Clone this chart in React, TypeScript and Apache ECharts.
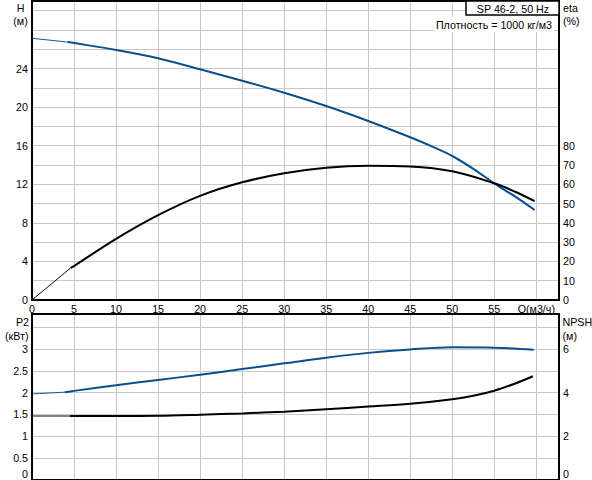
import React, { useEffect, useRef } from "react";
import * as echarts from "echarts";

// Flow (Q, m3/h) and curve values
const headThinQ = [0, 2, 4.2];
const headThin = [27.13, 26.95, 26.74];
const headQ = [4.2, 5, 10, 15, 20, 25, 30, 35, 40, 45, 47.5, 50, 52.5, 55, 57.5, 59.8];
const head = [26.74, 26.64, 25.92, 25.06, 23.92, 22.74, 21.49, 20.11, 18.56, 16.87, 15.95, 14.93, 13.6, 12.1, 10.71, 9.33];

const effThinQ = [0, 4.6];
const effThin = [0, 16.6];
const effQ = [4.6, 5, 10, 15, 20, 25, 30, 35, 40, 45, 50, 55, 57.5, 59.8];
const eff = [16.6, 17.6, 31.7, 44.0, 54.0, 61.0, 65.7, 68.6, 69.6, 69.2, 66.7, 60.5, 56.1, 51.2];

const powerThinQ = [0, 3.9];
const powerThin = [1.97, 2.01];
const powerQ = [3.9, 5, 10, 15, 20, 25, 30, 35, 40, 45, 50, 55, 59.7];
const power = [2.01, 2.04, 2.17, 2.29, 2.41, 2.54, 2.67, 2.8, 2.91, 2.99, 3.04, 3.03, 2.98];

const npshThinQ = [0, 4.5];
const npshThin = [2.93, 2.93];
const npshQ = [4.5, 10, 15, 20, 25, 30, 35, 40, 45, 50, 52.5, 55, 57.5, 59.6];
const npsh = [2.93, 2.93, 2.94, 2.99, 3.05, 3.13, 3.24, 3.36, 3.49, 3.7, 3.86, 4.09, 4.42, 4.75];

const qLabelAt = 60;
const qLabel = "Q(м3/ч)";
const titleText = "SP 46-2, 50 Hz";
const densityText = "Плотность = 1000 кг/м3";

const BLUE = "#0a4f8c";
const GRID = "#c8c8c8";
const FONT = "Arial, 'Liberation Sans', sans-serif";
const FS = 10.7;

const zip = (xs: number[], ys: number[]) => xs.map((x, i) => [x, ys[i]]);

const lineSeries = (data: number[][], x: number, y: number, color: string, width: number) => ({
  type: "line",
  xAxisIndex: x,
  yAxisIndex: y,
  data,
  showSymbol: false,
  symbol: "none",
  smooth: 0.35,
  silent: true,
  lineStyle: { color, width },
  z: 3,
});

export default function App() {
  const ref = useRef<HTMLDivElement>(null);
  useEffect(() => {
    if (!ref.current) return;
    const chart = echarts.init(ref.current, undefined, { renderer: "svg" });
    const labelStyle = { color: "#000", fontSize: FS, fontFamily: FONT };
    const xAxisBase = {
      type: "value",
      min: 0,
      max: 62.7,
      interval: 5,
      axisLine: { show: false },
      axisTick: { show: false },
      splitLine: { show: true, lineStyle: { color: GRID, width: 1 } },
    };
    const option: any = {
      animation: false,
      backgroundColor: "#fff",
      grid: [
        { left: 32, top: 1, width: 527, height: 299 },
        { left: 32, top: 314, width: 527, height: 166 },
      ],
      xAxis: [
        {
          ...xAxisBase,
          gridIndex: 0,
          axisLabel: {
            ...labelStyle,
            margin: 3,
            showMaxLabel: false,
            formatter: (v: number) => (v === qLabelAt ? qLabel : v % 5 === 0 && v < qLabelAt ? String(v) : ""),
          },
        },
        { ...xAxisBase, gridIndex: 1, axisLabel: { show: false } },
      ],
      yAxis: [
        {
          type: "value",
          gridIndex: 0,
          position: "left",
          min: 0,
          max: 31,
          interval: 2,
          axisLine: { show: false },
          axisTick: { show: false },
          splitLine: { show: true, lineStyle: { color: GRID, width: 1 } },
          axisLabel: {
            ...labelStyle,
            margin: 4,
            showMaxLabel: false,
            formatter: (v: number) => (v % 4 === 0 && v <= 24 ? String(v) : ""),
          },
        },
        {
          type: "value",
          gridIndex: 0,
          position: "right",
          min: 0,
          max: 155,
          interval: 10,
          axisLine: { show: false },
          axisTick: { show: false },
          splitLine: { show: false },
          axisLabel: {
            ...labelStyle,
            margin: 4,
            showMaxLabel: false,
            formatter: (v: number) => (v % 10 === 0 && v <= 80 ? String(v) : ""),
          },
        },
        {
          type: "value",
          gridIndex: 1,
          position: "left",
          min: 0,
          max: 3.8,
          interval: 0.5,
          axisLine: { show: false },
          axisTick: { show: false },
          splitLine: { show: true, lineStyle: { color: GRID, width: 1 } },
          axisLabel: {
            ...labelStyle,
            margin: 4,
            showMaxLabel: false,
            formatter: (v: number) => (v === 0 ? "{z|0}" : v <= 3 ? String(v) : ""),
            rich: { z: { ...labelStyle, padding: [0, 0, 12, 0] } },
          },
        },
        {
          type: "value",
          gridIndex: 1,
          position: "right",
          min: 0,
          max: 7.6,
          interval: 2,
          axisLine: { show: false },
          axisTick: { show: false },
          splitLine: { show: false },
          axisLabel: {
            ...labelStyle,
            margin: 4,
            showMaxLabel: false,
            formatter: (v: number) => (v === 0 ? "{z|0}" : v <= 6 ? String(v) : ""),
            rich: { z: { ...labelStyle, padding: [0, 0, 12, 0] } },
          },
        },
      ],
      series: [
        lineSeries(zip(headThinQ, headThin), 0, 0, BLUE, 1),
        lineSeries(zip(headQ, head), 0, 0, BLUE, 2),
        lineSeries(zip(effThinQ, effThin), 0, 1, "#000", 1),
        lineSeries(zip(effQ, eff), 0, 1, "#000", 2),
        lineSeries(zip(powerThinQ, powerThin), 1, 2, BLUE, 1),
        lineSeries(zip(powerQ, power), 1, 2, BLUE, 2),
        lineSeries(zip(npshThinQ, npshThin), 1, 3, "#000", 1),
        lineSeries(zip(npshQ, npsh), 1, 3, "#000", 2),
      ],
      graphic: [
        {
          type: "rect",
          z: 50,
          silent: true,
          shape: { x: 32, y: 1, width: 527, height: 299 },
          style: { fill: "none", stroke: "#000", lineWidth: 2 },
        },
        {
          type: "rect",
          z: 50,
          silent: true,
          shape: { x: 32, y: 314, width: 527, height: 166 },
          style: { fill: "none", stroke: "#000", lineWidth: 2 },
        },
        {
          type: "rect",
          z: 51,
          silent: true,
          shape: { x: 466, y: 1, width: 93, height: 14 },
          style: { fill: "#fff", stroke: "#000", lineWidth: 1.5 },
        },
        {
          type: "text",
          z: 52,
          silent: true,
          x: 513,
          y: 8.5,
          style: { text: titleText, fill: "#000", font: `${FS}px ${FONT}`, align: "center", verticalAlign: "middle" },
        },
        {
          type: "text",
          z: 52,
          silent: true,
          x: 554,
          y: 24.5,
          style: {
            text: densityText,
            fill: "#000",
            font: `${FS}px ${FONT}`,
            align: "right",
            verticalAlign: "middle",
            backgroundColor: "#fff",
            padding: [2, 2, 2, 2],
          },
        },
        { type: "text", z: 52, silent: true, x: 20.5, y: 7.5, style: { text: "H", fill: "#000", font: `${FS}px ${FONT}`, align: "center", verticalAlign: "middle" } },
        { type: "text", z: 52, silent: true, x: 20.5, y: 20.5, style: { text: "(м)", fill: "#000", font: `${FS}px ${FONT}`, align: "center", verticalAlign: "middle" } },
        { type: "text", z: 52, silent: true, x: 563, y: 7.5, style: { text: "eta", fill: "#000", font: `${FS}px ${FONT}`, align: "left", verticalAlign: "middle" } },
        { type: "text", z: 52, silent: true, x: 563, y: 20.5, style: { text: "(%)", fill: "#000", font: `${FS}px ${FONT}`, align: "left", verticalAlign: "middle" } },
        { type: "text", z: 52, silent: true, x: 29, y: 321.5, style: { text: "P2", fill: "#000", font: `${FS}px ${FONT}`, align: "right", verticalAlign: "middle" } },
        { type: "text", z: 52, silent: true, x: 28.5, y: 335.5, style: { text: "(кВт)", fill: "#000", font: `${FS}px ${FONT}`, align: "right", verticalAlign: "middle" } },
        { type: "text", z: 52, silent: true, x: 562.5, y: 322, style: { text: "NPSH", fill: "#000", font: `${FS}px ${FONT}`, align: "left", verticalAlign: "middle" } },
        { type: "text", z: 52, silent: true, x: 562.5, y: 335.5, style: { text: "(м)", fill: "#000", font: `${FS}px ${FONT}`, align: "left", verticalAlign: "middle" } },
      ],
    };
    chart.setOption(option);
    return () => chart.dispose();
  }, []);
  return <div ref={ref} style={{ position: "fixed", left: 0, top: 0, width: 592, height: 480 }} />;
}
